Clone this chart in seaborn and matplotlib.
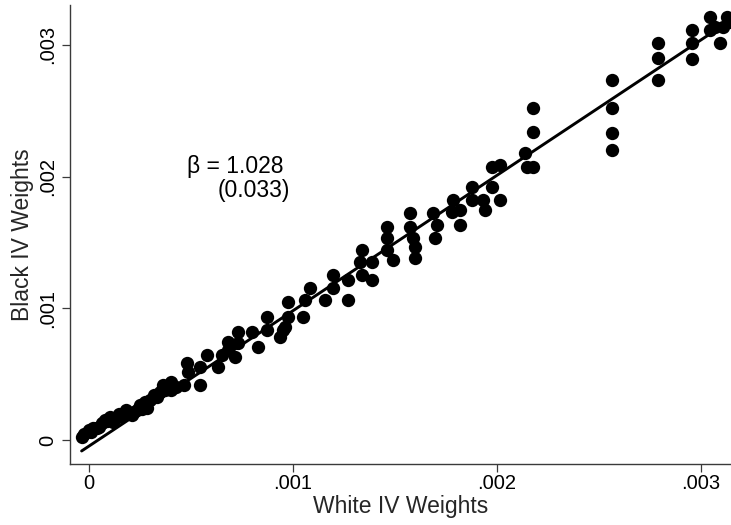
import numpy as np
import pandas as pd
import matplotlib
matplotlib.use("Agg")
import matplotlib.pyplot as plt
import seaborn as sns

# IV weights by county/group: white weight (x) against black weight (y)
white_w = [
    -0.0000343, 0.0000000, 0.0000230, 0.0000397, 0.0000642, 0.0000799, 0.0001049, 0.0001211,
    0.0001485, 0.0001828, 0.0001946, 0.0002113, 0.0002358, 0.0002515, 0.0002784, 0.0002848,
    0.0003010, 0.0003196, 0.0003338, 0.0003662, 0.0003745, 0.0004044, 0.0004044, 0.0004681,
    0.0004799, 0.0004887, 0.0005461, 0.0005461, 0.0005789, 0.0006358, 0.0006525, 0.0006848,
    0.0006853, 0.0007176, 0.0007338, 0.0007338, 0.0007995, 0.0008319, 0.0008730, 0.0008730,
    0.0009382, 0.0009544, 0.0009627, 0.0009789, 0.0009789, 0.0010525, 0.0010608, 0.0010853,
    0.0011588, 0.0011995, 0.0011995, 0.0012730, 0.0012730, 0.0013387, 0.0013304, 0.0013387,
    0.0013877, 0.0013877, 0.0014613, 0.0014613, 0.0014613, 0.0014936, 0.0015755, 0.0015755,
    0.0015917, 0.0016000, 0.0016000, 0.0016897, 0.0017064, 0.0016980, 0.0017877, 0.0017799,
    0.0018206, 0.0018206, 0.0018779, 0.0018779, 0.0019348, 0.0019431, 0.0019760, 0.0020167,
    0.0019760, 0.0020167, 0.0021392, 0.0021475, 0.0021799, 0.0021799, 0.0021799, 0.0025642,
    0.0025642, 0.0025642, 0.0025642, 0.0027926, 0.0027926, 0.0027926, 0.0029564, 0.0029564,
    0.0029564, 0.0030461, 0.0030461, 0.0030951, 0.0030706, 0.0031113, 0.0031294, 0.0031392,
    -0.0000225, 0.0000118, 0.0000510, 0.0000902, 0.0001343, 0.0001637, 0.0002225, 0.0002618,
    0.0003500, 0.0004284,
]
black_w = [
    0.0000228, 0.0000744, 0.0000888, 0.0000911, 0.0001268, 0.0001503, 0.0001769, 0.0001390,
    0.0002012, 0.0002270, 0.0002027, 0.0001898, 0.0002278, 0.0002658, 0.0002908, 0.0002407,
    0.0003037, 0.0003417, 0.0003288, 0.0004176, 0.0003797, 0.0004427, 0.0003797, 0.0004176,
    0.0005831, 0.0005186, 0.0005566, 0.0004176, 0.0006454, 0.0005566, 0.0006454, 0.0007464,
    0.0006849, 0.0006325, 0.0008223, 0.0007342, 0.0008223, 0.0007084, 0.0009362, 0.0008352,
    0.0007844, 0.0008352, 0.0008603, 0.0010501, 0.0009362, 0.0009362, 0.0010630, 0.0011519,
    0.0010630, 0.0012528, 0.0011519, 0.0012149, 0.0010630, 0.0014427, 0.0013538, 0.0012528,
    0.0013538, 0.0012149, 0.0016196, 0.0015315, 0.0014427, 0.0013667, 0.0017213, 0.0016196,
    0.0015315, 0.0014677, 0.0013797, 0.0017213, 0.0016325, 0.0015315, 0.0018223, 0.0017335,
    0.0017464, 0.0016325, 0.0019233, 0.0018223, 0.0018223, 0.0017464, 0.0019233, 0.0018223,
    0.0020752, 0.0020881, 0.0021792, 0.0020706, 0.0020706, 0.0023409, 0.0025186, 0.0027335,
    0.0025186, 0.0023288, 0.0022020, 0.0030121, 0.0028983, 0.0027335, 0.0031131, 0.0030121,
    0.0028907, 0.0032141, 0.0031131, 0.0030121, 0.0031382, 0.0031382, 0.0032141, 0.0031739,
    0.0000456, 0.0000607, 0.0000987, 0.0001443, 0.0001671, 0.0001822, 0.0002126, 0.0002354,
    0.0003645, 0.0004024,
]

# Linear fit reported on the chart
fit_slope = 1.028
fit_se = 0.033
fit_intercept = -0.000048

x_ticks = [0, 0.001, 0.002, 0.003]
x_tick_labels = ["0", ".001", ".002", ".003"]
y_ticks = [0, 0.001, 0.002, 0.003]
y_tick_labels = ["0", ".001", ".002", ".003"]

df = pd.DataFrame({"white": white_w, "black": black_w})

sns.set_theme(style="ticks")
plt.rcParams["font.family"] = ["Liberation Sans", "DejaVu Sans"]

W, H = 731, 525
fig = plt.figure(figsize=(W / 100, H / 100), dpi=100)
fig.patch.set_facecolor("white")
ax = fig.add_axes([70 / W, 61 / H, 661 / W, 459 / H])
ax.set_facecolor("white")

sns.scatterplot(data=df, x="white", y="black", ax=ax, color="black",
                s=92, linewidth=0, legend=False, zorder=2)

fit_x = np.array([df["white"].min(), df["white"].max()])
fit_y = fit_intercept + fit_slope * fit_x
sns.lineplot(x=fit_x, y=fit_y, ax=ax, color="black", linewidth=2.1,
             zorder=3, legend=False)

ax.set_xlim(-0.0000912, 0.003149)
ax.set_ylim(-0.000182, 0.003303)

ax.set_xticks(x_ticks)
ax.set_xticklabels(x_tick_labels)
ax.set_yticks(y_ticks)
ax.set_yticklabels(y_tick_labels)

for side in ("top", "right"):
    ax.spines[side].set_visible(False)
for side in ("left", "bottom"):
    ax.spines[side].set_color("#3a3a3a")
    ax.spines[side].set_linewidth(1.0)

ax.tick_params(axis="both", direction="out", length=5.5, width=0.9,
               color="#3a3a3a", labelsize=14.5, labelcolor="black")
ax.tick_params(axis="x", pad=2)
ax.tick_params(axis="y", pad=4)
for lbl in ax.get_yticklabels():
    lbl.set_rotation(90)
    lbl.set_va("center")

ax.set_xlabel("White IV Weights", fontsize=16.5, labelpad=1)
ax.set_ylabel("Black IV Weights", fontsize=16.5, labelpad=3)

ax.text(0.00048, 0.002073, f"\u03b2 = {fit_slope:.3f}", fontsize=16.5,
        ha="left", va="center", color="black")
ax.text(0.000634, 0.001891, f"({fit_se:.3f})", fontsize=16.5,
        ha="left", va="center", color="black")

fig.savefig("out.png", dpi=100, facecolor="white")
